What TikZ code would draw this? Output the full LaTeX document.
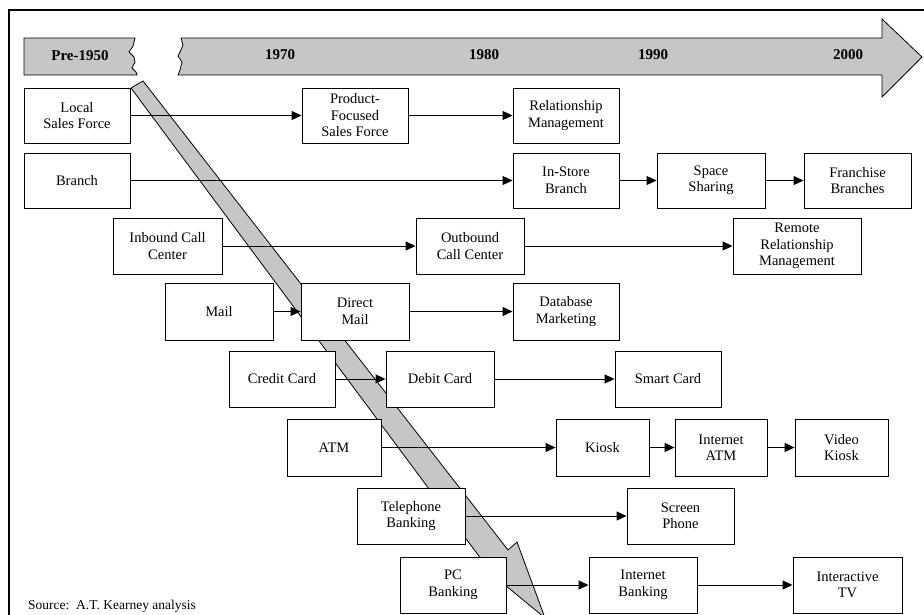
\documentclass[tikz,border=0pt]{standalone}
\usepackage{fontspec}
\setmainfont{Liberation Serif}
\usetikzlibrary{arrows.meta}
\definecolor{bandgray}{RGB}{198,198,198}
\begin{document}
\begin{tikzpicture}[x=1pt,y=-1pt,
  box/.style={draw, line width=0.9pt, fill=white, align=center, inner sep=1pt,
              font=\fontsize{14.5}{16.5}\selectfont},
  link/.style={line width=0.9pt, -{Triangle[length=10pt,width=9pt]}},
  yr/.style={font=\fontsize{15}{16}\selectfont\bfseries},
  banner/.style={draw, line width=0.8pt, fill=bandgray, line join=miter}]

\useasboundingbox (0,0) rectangle (924,614);
\clip (0,0) rectangle (924,614);

% outer frame
\draw[line width=2pt] (9,640) -- (9,10) -- (950,10);

% "Pre-1950" banner with torn right edge
\draw[banner] (24,38) -- (135,38) -- (133,46) -- (129,52) -- (134,57) -- (135,62)
  -- (132,68) -- (136,72) -- (137,75) -- (24,75) -- cycle;
% timeline arrow with torn left edge
\draw[banner] (181,38) -- (882,38) -- (882,19) -- (922,57) -- (882,97) -- (882,75)
  -- (178,75) -- (180,70) -- (182,62) -- (178,56) -- (180,52) -- (183,45) -- cycle;

\node[yr] (y50) at (80,56) {Pre-1950};
\node[yr] (y70) at (280,55) {1970};
\node[yr] (y80) at (484,55) {1980};
\node[yr] (y90) at (653,55) {1990};
\node[yr] (y00) at (848,55) {2000};

% diagonal lightning band, widening slightly towards its head
\draw[banner] (131,88) -- (143,81) -- (508,550) -- (517,542) -- (545,618)
  -- (493,575) -- cycle;

% row 1
\node[box, minimum width=106, minimum height=55] (lsf)  at (77,115.5)  {Local\\Sales Force};
\node[box, minimum width=106, minimum height=55] (pfsf) at (355,115.5) {Product-\\Focused\\Sales Force};
\node[box, minimum width=106, minimum height=55] (rm)   at (566,115.5) {Relationship\\Management};
% row 2
\node[box, minimum width=106, minimum height=55] (br)   at (77,180.5)  {Branch};
\node[box, minimum width=106, minimum height=55] (isb)  at (566,180.5) {In-Store\\Branch};
\node[box, minimum width=108, minimum height=55] (ss)   at (711,180.5) {Space\\Sharing};
\node[box, minimum width=107, minimum height=55] (fb)   at (857.5,180.5) {Franchise\\Branches};
% row 3
\node[box, minimum width=109, minimum height=56] (ibcc) at (167.5,246) {Inbound Call\\Center};
\node[box, minimum width=108, minimum height=56] (obcc) at (470,246)   {Outbound\\Call Center};
\node[box, minimum width=128, minimum height=56] (rrm)  at (797,246)   {Remote\\Relationship\\Management};
% row 4
\node[box, minimum width=108, minimum height=57] (mail) at (219,311.5) {Mail};
\node[box, minimum width=108, minimum height=57] (dm)   at (355,311.5) {Direct\\Mail};
\node[box, minimum width=106, minimum height=57] (dbm)  at (566,311.5) {Database\\Marketing};
% row 5
\node[box, minimum width=106, minimum height=56] (cc)   at (282,379) {Credit Card};
\node[box, minimum width=108, minimum height=56] (dc)   at (440,379) {Debit Card};
\node[box, minimum width=106, minimum height=56] (sc)   at (668,379) {Smart Card};
% row 6
\node[box, minimum width=94, minimum height=57] (atm)  at (334,447.5)   {ATM};
\node[box, minimum width=93, minimum height=57] (ki)   at (602.5,447.5) {Kiosk};
\node[box, minimum width=92, minimum height=57] (iatm) at (721,447.5)   {Internet\\ATM};
\node[box, minimum width=93, minimum height=57] (vk)   at (841.5,447.5) {Video\\Kiosk};
% row 7
\node[box, minimum width=108, minimum height=56] (tb)  at (411,516)   {Telephone\\Banking};
\node[box, minimum width=107, minimum height=56] (sp)  at (680.5,516) {Screen\\Phone};
% row 8
\node[box, minimum width=106, minimum height=56] (pcb) at (453,585)   {PC\\Banking};
\node[box, minimum width=108, minimum height=56] (ib)  at (643,585)   {Internet\\Banking};
\node[box, minimum width=109, minimum height=56] (itv) at (847.5,585) {Interactive\\TV};

% connectors
\draw[link] (lsf.east) -- (pfsf.west);
\draw[link] (pfsf.east) -- (rm.west);
\draw[link] (br.east) -- (isb.west);
\draw[link] (isb.east) -- (ss.west);
\draw[link] (ss.east) -- (fb.west);
\draw[link] (ibcc.east) -- (obcc.west);
\draw[link] (obcc.east) -- (rrm.west);
\draw[link] (mail.east) -- (dm.west);
\draw[link] (dm.east) -- (dbm.west);
\draw[link] (cc.east) -- (dc.west);
\draw[link] (dc.east) -- (sc.west);
\draw[link] (atm.east) -- (ki.west);
\draw[link] (ki.east) -- (iatm.west);
\draw[link] (iatm.east) -- (vk.west);
\draw[link] (tb.east) -- (sp.west);
\draw[link] (pcb.east) -- (ib.west);
\draw[link] (ib.east) -- (itv.west);

% source note
\node[anchor=base west, inner sep=0pt, font=\fontsize{13.5}{15}\selectfont] (src)
  at (28,609) {Source:\ \ A.T. Kearney analysis};
\end{tikzpicture}
\end{document}
